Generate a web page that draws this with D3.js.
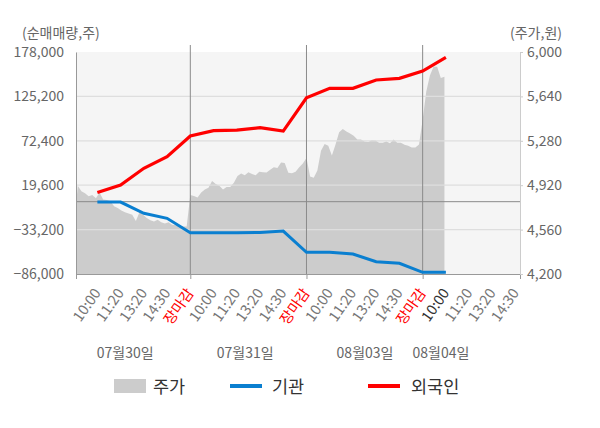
<!DOCTYPE html>
<meta charset="utf-8">
<script src="https://d3js.org/d3.v7.min.js"></script>
<style>
  body { margin: 0; background: #fff; }
  text { font-family: "Noto Sans CJK KR", "Noto Sans", sans-serif; }
</style>
<div id="chart"></div>
<script>

// tick labels
const timeLabels = ["10:00", "11:20", "13:20", "14:30", "장마감",
                    "10:00", "11:20", "13:20", "14:30", "장마감",
                    "10:00", "11:20", "13:20", "14:30", "장마감",
                    "10:00", "11:20", "13:20", "14:30"];
const dateLabels = ["07월30일", "07월31일", "08월03일", "08월04일"];
const leftTicks = [-86000, -33200, 19600, 72400, 125200, 178000];
const rightTicks = [4200, 4560, 4920, 5280, 5640, 6000];

// net buying (shares), one value per time slot 10:00 .. 08/04 10:00
const foreign = [11000, 19800, 39700, 53500, 78100, 84400, 85200, 88000, 84000,
                 123600, 134800, 134800, 144700, 146700, 155400, 171700];
const institution = [-500, -500, -13800, -19800, -36900, -36900, -36900, -36600, -34900,
                     -60200, -60200, -62200, -71400, -73300, -84000, -84000];

// intraday price (won), sampled at a fixed step through each day
const priceDay1 = [4590, 4915, 4870, 4855, 4830, 4840, 4815, 4860, 4805, 4800, 4790, 4750,
                   4735, 4715, 4700, 4690, 4680, 4630, 4700, 4680, 4655, 4635, 4625, 4640,
                   4620, 4610, 4620, 4600, 4595, 4590, 4585, 4585];
const priceDay2 = [4840, 4832, 4820, 4860, 4885, 4900, 4955, 4930, 4915, 4885, 4905, 4905,
                   4940, 4995, 5015, 5000, 5025, 5010, 5000, 5030, 5025, 5022, 5045, 5065,
                   5060, 5105, 5100, 5020, 5016, 5030, 5065, 5095];
const priceDay3 = [5140, 4990, 4980, 5040, 5200, 5255, 5240, 5160, 5250, 5350, 5375, 5355,
                   5340, 5320, 5290, 5290, 5275, 5270, 5285, 5283, 5265, 5265, 5275, 5260,
                   5290, 5265, 5265, 5248, 5240, 5225, 5225, 5250];
const priceDay4 = [5450, 5680, 5810, 5880, 5880, 5790, 5800];

const W = 600, H = 428;
const plot = {left: 76, right: 520, top: 52, bottom: 274};
const slotsPerDay = 5;
const sampleStep = slotsPerDay / 32;

const svg = d3.select("#chart").append("svg")
    .attr("width", W)
    .attr("height", H);

const x = d3.scaleLinear().domain([0.08, 19.19]).range([plot.left, plot.right]);
const yL = d3.scaleLinear().domain([-86000, 178000]).range([plot.bottom, plot.top]);
const yR = d3.scaleLinear().domain([4200, 6000]).range([plot.bottom, plot.top]);

svg.append("clipPath").attr("id", "clip")
  .append("rect")
    .attr("x", plot.left).attr("y", plot.top)
    .attr("width", plot.right - plot.left).attr("height", plot.bottom - plot.top);

// background
svg.append("rect")
    .attr("x", plot.left).attr("y", plot.top)
    .attr("width", plot.right - plot.left).attr("height", plot.bottom - plot.top)
    .attr("fill", "#f5f5f5");

// price area
const priceData = [];
[priceDay1, priceDay2, priceDay3, priceDay4].forEach((day, d) => {
  day.forEach((v, i) => priceData.push([d * slotsPerDay + i * sampleStep, v]));
});
svg.append("path")
    .datum(priceData)
    .attr("clip-path", "url(#clip)")
    .attr("fill", "#cccccc")
    .attr("d", d3.area()
        .x(d => x(d[0]))
        .y0(plot.bottom)
        .y1(d => yR(d[1])));

// grid lines
svg.append("g")
  .selectAll("line")
  .data(leftTicks.slice(1, -1))
  .join("line")
    .attr("x1", plot.left).attr("x2", plot.right)
    .attr("y1", d => yL(d)).attr("y2", d => yL(d))
    .attr("stroke", "#dedede")
    .attr("stroke-width", 1.2);

// zero line
svg.append("line")
    .attr("x1", plot.left).attr("x2", plot.right)
    .attr("y1", yL(0)).attr("y2", yL(0))
    .attr("stroke", "#8a8a8a");

// day separators
svg.append("g")
  .selectAll("line")
  .data([5, 10, 15])
  .join("line")
    .attr("x1", d => x(d)).attr("x2", d => x(d))
    .attr("y1", plot.top - 7).attr("y2", plot.bottom)
    .attr("stroke", "#8a8a8a");

// axes
const bottomAxis = svg.append("g")
    .attr("transform", `translate(0,${plot.bottom})`)
    .call(d3.axisBottom(x).tickValues([0.08, 5, 10, 15, 19.19]).tickFormat("").tickSize(5));
bottomAxis.select(".domain").attr("stroke", "#999");
bottomAxis.selectAll(".tick line").attr("stroke", "#999");

const leftAxis = svg.append("g")
    .attr("transform", `translate(${plot.left},0)`)
    .call(d3.axisLeft(yL).tickValues(leftTicks).tickFormat(d3.format(",")).tickSize(0).tickPadding(12));
leftAxis.select(".domain").attr("stroke", "#999");
leftAxis.selectAll("text")
    .attr("fill", "#666")
    .style("font-size", "14px")
    .style("font-family", "'Noto Sans CJK KR', sans-serif");

const rightAxis = svg.append("g")
    .attr("transform", `translate(${plot.right},0)`)
    .call(d3.axisRight(yR).tickValues(rightTicks).tickFormat(d3.format(",")).tickSize(3).tickPadding(4));
rightAxis.select(".domain").attr("stroke", "#ccc");
rightAxis.selectAll(".tick line").attr("stroke", "#ccc");
rightAxis.selectAll("text")
    .attr("fill", "#666")
    .style("font-size", "14px")
    .style("font-family", "'Noto Sans CJK KR', sans-serif");

// institution and foreign lines
const line = d3.line()
    .x((d, i) => x(i + 1))
    .y(d => yL(d));

svg.append("path")
    .datum(institution)
    .attr("fill", "none")
    .attr("stroke", "#0a7fd0")
    .attr("stroke-width", 3)
    .attr("d", line);

svg.append("path")
    .datum(foreign)
    .attr("fill", "none")
    .attr("stroke", "#ff0000")
    .attr("stroke-width", 3.2)
    .attr("d", line);

// axis titles
svg.append("text")
    .attr("x", 22).attr("y", 38)
    .attr("fill", "#666")
    .style("font-size", "14px")
    .text("(순매매량,주)");
svg.append("text")
    .attr("x", 562).attr("y", 38)
    .attr("text-anchor", "end")
    .attr("fill", "#666")
    .style("font-size", "14px")
    .text("(주가,원)");

// time labels
svg.append("g")
  .selectAll("text")
  .data(timeLabels)
  .join("text")
    .attr("transform", (d, i) => `translate(${x(i + 1) + 4},${plot.bottom + 19}) rotate(-55)`)
    .attr("text-anchor", "end")
    .attr("fill", (d, i) => d === "장마감" ? "#ff0000" : (i === 15 ? "#333" : "#777"))
    .style("font-size", "14.5px")
    .text(d => d);

// date labels
const dateAt = [2.2, 7.36, 12.52, 15.79];
svg.append("g")
  .selectAll("text")
  .data(dateLabels)
  .join("text")
    .attr("x", (d, i) => x(dateAt[i]))
    .attr("y", 358)
    .attr("text-anchor", "middle")
    .attr("fill", "#666")
    .style("font-size", "14px")
    .text(d => d);

// legend
const legend = svg.append("g");
legend.append("rect")
    .attr("x", 114).attr("y", 379).attr("width", 32).attr("height", 14)
    .attr("fill", "#cccccc");
legend.append("line")
    .attr("x1", 230).attr("x2", 262).attr("y1", 386).attr("y2", 386)
    .attr("stroke", "#0a7fd0").attr("stroke-width", 4);
legend.append("line")
    .attr("x1", 368).attr("x2", 400).attr("y1", 386).attr("y2", 386)
    .attr("stroke", "#ff0000").attr("stroke-width", 4);
legend.selectAll("text.lg")
  .data([["주가", 153], ["기관", 272], ["외국인", 411]])
  .join("text")
    .attr("class", "lg")
    .attr("x", d => d[1])
    .attr("y", 392.5)
    .attr("fill", "#333")
    .style("font-size", "17.5px")
    .text(d => d[0]);

</script>
